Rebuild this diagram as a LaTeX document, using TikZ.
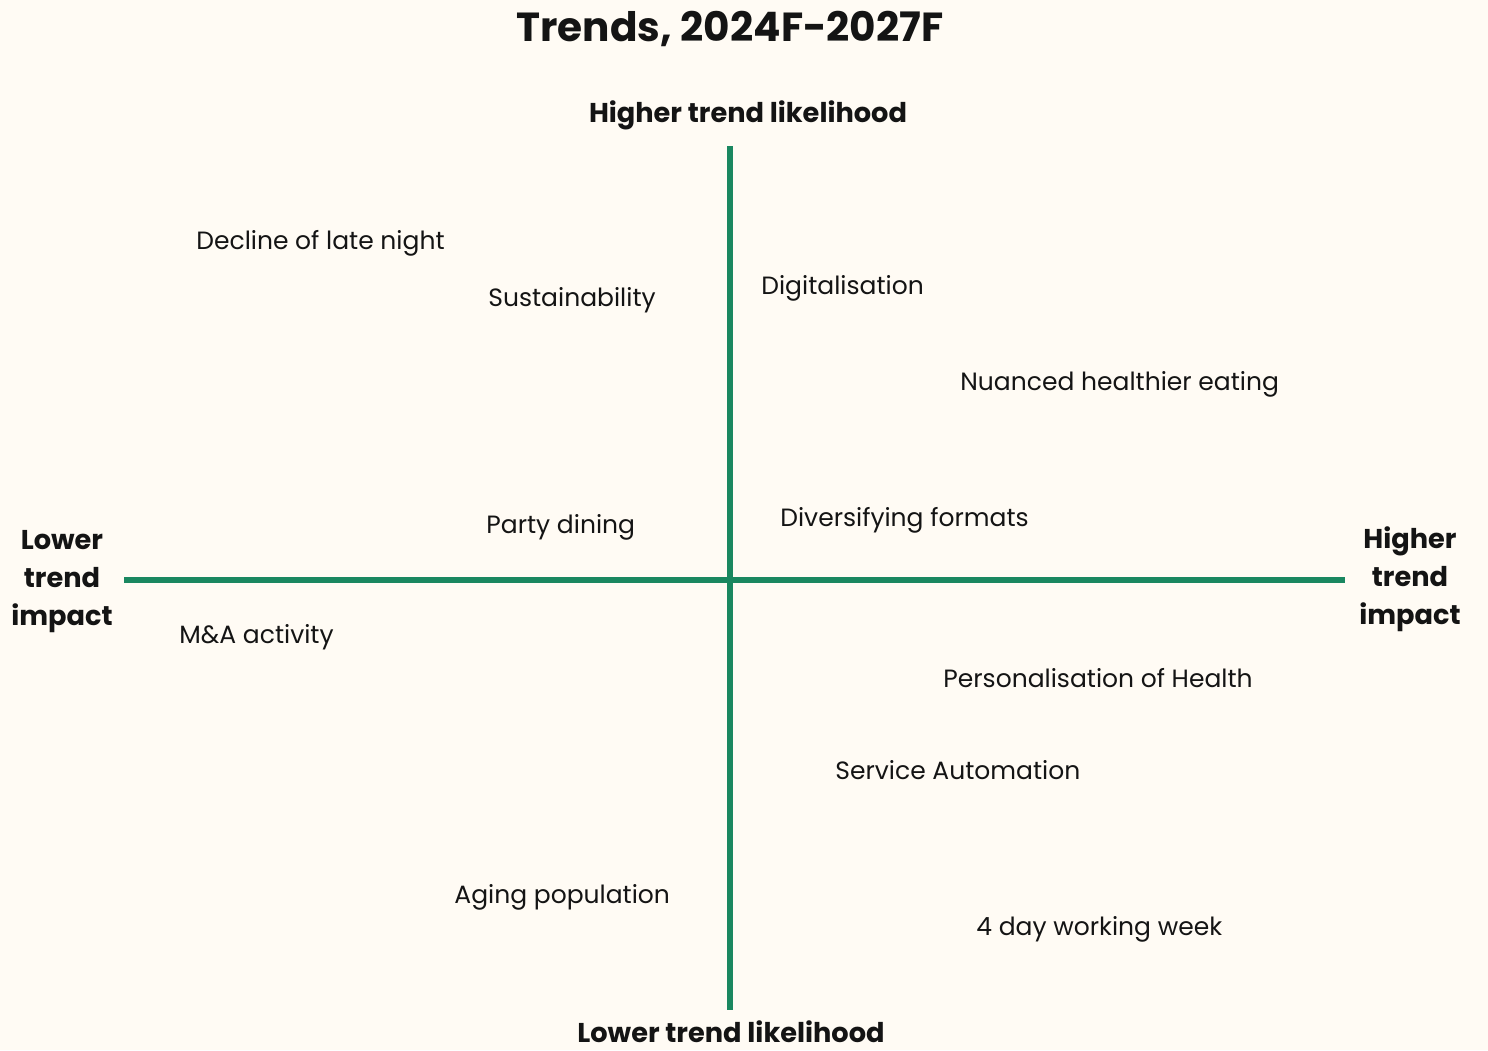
\documentclass[tikz,border=0pt]{standalone}
\usepackage{fontspec}
\setmainfont{Poppins}
\definecolor{paper}{RGB}{255,251,244}
\definecolor{axisgreen}{RGB}{26,135,96}
\definecolor{ink}{RGB}{20,20,20}
\begin{document}
\begin{tikzpicture}[x=0.5pt,y=-0.5pt,
  trend/.style={anchor=mid west,inner sep=0pt,font=\fontsize{12.5}{15}\selectfont,text=ink},
  axislabel/.style={inner sep=0pt,font=\bfseries\fontsize{13.6}{19}\selectfont,text=ink},
  sidelabel/.style={axislabel,align=center},
  axisline/.style={draw=axisgreen,line width=3pt}]
  \fill[paper] (0,0) rectangle (1488,1050);
  \useasboundingbox (0,0) rectangle (1488,1050);

  \node[inner sep=0pt,font=\bfseries\fontsize{20.3}{24}\selectfont,text=ink] (title) at (730,29) {Trends, 2024F-2027F};

  % axes
  \coordinate (top) at (730,146);
  \coordinate (bottom) at (730,1010);
  \coordinate (left) at (124,580);
  \coordinate (right) at (1345,580);
  \draw[axisline] (top) -- (bottom);
  \draw[axisline] (left) -- (right);

  % axis labels
  \node[axislabel] (hlike) at (748,115) {Higher trend likelihood};
  \node[axislabel] (llike) at (731,1032) {Lower trend likelihood};
  \node[sidelabel] (limp) at (62,582) {Lower\\trend\\impact};
  \node[sidelabel] (himp) at (1410,579) {Higher\\trend\\impact};

  % trends
  \node[trend] (t1) at (196,244) {Decline of late night};
  \node[trend] (t2) at (488,301) {Sustainability};
  \node[trend] (t3) at (761,289) {Digitalisation};
  \node[trend] (t4) at (960,385) {Nuanced healthier eating};
  \node[trend] (t5) at (486,528) {Party dining};
  \node[trend] (t6) at (780,521) {Diversifying formats};
  \node[trend] (t7) at (179,638) {M\&A activity};
  \node[trend] (t8) at (943,682) {Personalisation of Health};
  \node[trend] (t9) at (835,774) {Service Automation};
  \node[trend] (t10) at (454,898) {Aging population};
  \node[trend] (t11) at (976,930) {4 day working week};
\end{tikzpicture}
\end{document}
